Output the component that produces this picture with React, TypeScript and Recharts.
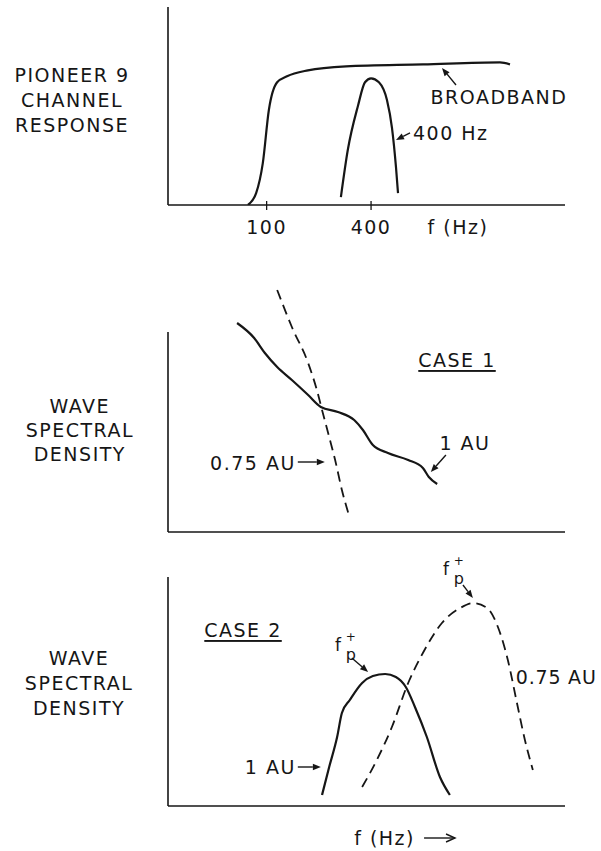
import React from "react";
import {
  LineChart,
  Line,
  XAxis,
  YAxis,
  ReferenceLine,
  ReferenceDot,
} from "recharts";

const FONT = "DejaVu Sans";
const INK = "#161616";

// Pioneer 9 channel response: frequency in Hz (log axis), response in relative units
const broadbandHz = [78, 87, 95, 103, 115, 131, 173, 287, 797, 2215, 2529];
const broadbandResp = [0, 6, 21, 48, 62, 65, 68, 70, 71, 72, 71];
const narrowHz = [268, 294, 336, 369, 400, 444, 494, 528, 557, 572];
const narrowResp = [4, 28, 50, 62, 64, 62, 53, 39, 19, 6];
const responseTicks = [100, 400];

// Case 1: relative frequency vs spectral density
const case1Freq1AU = [17.4, 21.7, 24.4, 27.5, 31.2, 35.3, 38.5, 42.8, 46.9, 49.1, 51.6, 55.4, 60.5, 64.2, 65.7, 67.8];
const case1Dens1AU = [104.5, 97, 89.5, 82.5, 76, 68.5, 62.5, 60, 56, 51, 43.5, 39.5, 36, 32, 27.5, 24];
const case1Freq075 = [27.5, 31.2, 35.3, 37.5, 39.0, 40.6, 42.1, 43.8, 45.8];
const case1Dens075 = [121, 102.5, 84.5, 71, 59.5, 47.5, 36, 21, 7];

// Case 2
const case2Freq1AU = [38.8, 40.6, 42.6, 43.8, 45.8, 48.9, 51.6, 54.7, 57.4, 59.9, 62.2, 65.2, 68.5, 71.0];
const case2Dens1AU = [5.5, 19.5, 34.5, 46.5, 53, 61.5, 65, 66, 64.5, 59.5, 49.5, 34.5, 14.5, 5.5];
const case2Freq075 = [48.9, 52.6, 56.4, 60.5, 64.2, 69.0, 73.6, 76.8, 80.4, 83.1, 85.6, 87.9, 89.9, 91.9];
const case2Dens075 = [9.5, 23, 39.5, 61.5, 76.5, 91.5, 99, 101.5, 99, 89.5, 73, 51.5, 33, 18];

const toRows = (xs: number[], ys: number[]) => xs.map((f, i) => ({ f, v: ys[i] }));

const textStyle = {
  fontFamily: FONT,
  fontSize: 19,
  letterSpacing: 1.5,
  fill: INK,
};

// line with a filled (or open) head at the second point
const arrow = (open = false) => (p: any) => {
  const { x1, y1, x2, y2 } = p;
  const a = Math.atan2(y2 - y1, x2 - x1);
  const len = open ? 9 : 8;
  const w = open ? 4 : 3.2;
  const bx = x2 - len * Math.cos(a);
  const by = y2 - len * Math.sin(a);
  const nx = -Math.sin(a) * w;
  const ny = Math.cos(a) * w;
  return (
    <g>
      <line x1={x1} y1={y1} x2={open ? x2 : bx} y2={open ? y2 : by} stroke={INK} strokeWidth={1.4} />
      {open ? (
        <polyline
          points={`${bx + nx},${by + ny} ${x2},${y2} ${bx - nx},${by - ny}`}
          fill="none"
          stroke={INK}
          strokeWidth={1.4}
        />
      ) : (
        <polygon points={`${x2},${y2} ${bx + nx},${by + ny} ${bx - nx},${by - ny}`} fill={INK} />
      )}
    </g>
  );
};

const note =
  (
    lines: string[],
    anchor: "start" | "middle" | "end" = "middle",
    gap = 25,
    underline = false,
    spacing = 1.5
  ) =>
  (p: any) => (
    <g>
      {lines.map((t, i) => (
        <text
          key={t}
          x={p.cx}
          y={p.cy + (i - (lines.length - 1) / 2) * gap}
          textAnchor={anchor}
          dominantBaseline="central"
          style={{
            ...textStyle,
            letterSpacing: spacing,
            textDecoration: underline ? "underline" : "none",
          }}
        >
          {t}
        </text>
      ))}
    </g>
  );

// f with a "+" superscript and a "p" subscript
const fpNote = (p: any) => (
  <g style={{ fontFamily: FONT, fill: INK }}>
    <text x={p.cx - 2} y={p.cy} textAnchor="middle" dominantBaseline="central" fontSize={17}>
      f
    </text>
    <text x={p.cx + 11} y={p.cy - 8} textAnchor="middle" dominantBaseline="central" fontSize={12}>
      +
    </text>
    <text x={p.cx + 11} y={p.cy + 9} textAnchor="middle" dominantBaseline="central" fontSize={16}>
      p
    </text>
  </g>
);

const ResponseTick = (p: any) => (
  <g>
    <line x1={p.x} x2={p.x} y1={p.y - 4} y2={p.y + 5} stroke={INK} strokeWidth={1.3} />
    <text x={p.x} y={p.y + 22} textAnchor="middle" dominantBaseline="central" style={textStyle}>
      {p.payload.value}
    </text>
  </g>
);

const noDot = { r: 0 };

function ResponsePanel() {
  return (
    <LineChart width={601} height={240} margin={{ top: 7, right: 36, bottom: 0, left: 168 }}>
      <XAxis
        dataKey="f"
        type="number"
        scale="log"
        domain={[27, 5250]}
        allowDataOverflow
        ticks={responseTicks}
        tickSize={0}
        tickMargin={0}
        tickLine={false}
        tick={ResponseTick}
        height={35}
        axisLine={{ stroke: INK, strokeWidth: 1.6 }}
      />
      <YAxis dataKey="v" type="number" domain={[0, 100]} allowDataOverflow hide />
      <ReferenceLine
        segment={[{ x: 27, y: 0 }, { x: 27, y: 100 }]}
        stroke={INK}
        strokeWidth={1.6}
      />
      <Line data={toRows(broadbandHz, broadbandResp)} dataKey="v" type="monotone" stroke={INK} strokeWidth={2.2} dot={false} isAnimationActive={false} />
      <Line data={toRows(narrowHz, narrowResp)} dataKey="v" type="monotone" stroke={INK} strokeWidth={2.2} dot={false} isAnimationActive={false} />
      <ReferenceLine segment={[{ x: 1235, y: 60.6 }, { x: 1026, y: 69.2 }]} shape={arrow()} />
      <ReferenceLine segment={[{ x: 671, y: 36.4 }, { x: 557, y: 32.8 }]} shape={arrow()} />
      <ReferenceDot x={2186} y={54.5} {...noDot} shape={note(["BROADBAND"])} />
      <ReferenceDot x={698} y={36.4} {...noDot} shape={note(["400 Hz"], "start")} />
      <ReferenceDot x={1269} y={-11.1} {...noDot} ifOverflow="visible" shape={note(["f (Hz)"])} />
      <ReferenceDot
        x={7.55}
        y={53}
        {...noDot}
        ifOverflow="visible"
        shape={note(["PIONEER 9", "CHANNEL", "RESPONSE"])}
      />
    </LineChart>
  );
}

function Case1Panel() {
  return (
    <LineChart width={601} height={270} margin={{ top: 12, right: 36, bottom: 0, left: 168 }}>
      <XAxis
        dataKey="f"
        type="number"
        domain={[0, 100]}
        allowDataOverflow
        tick={false}
        tickLine={false}
        height={8}
        axisLine={{ stroke: INK, strokeWidth: 1.6 }}
      />
      <YAxis dataKey="v" type="number" domain={[0, 125]} allowDataOverflow hide />
      <ReferenceLine segment={[{ x: 0, y: 0 }, { x: 0, y: 100 }]} stroke={INK} strokeWidth={1.6} />
      <Line data={toRows(case1Freq1AU, case1Dens1AU)} dataKey="v" type="monotone" stroke={INK} strokeWidth={2.2} dot={false} isAnimationActive={false} />
      <Line data={toRows(case1Freq075, case1Dens075)} dataKey="v" type="monotone" stroke={INK} strokeWidth={1.8} strokeDasharray="10 6" dot={false} isAnimationActive={false} />
      <ReferenceDot x={72.8} y={86} {...noDot} shape={note(["CASE 1"], "middle", 25, true)} />
      <ReferenceLine segment={[{ x: 32.7, y: 35 }, { x: 39.5, y: 35 }]} shape={arrow()} />
      <ReferenceDot x={32.2} y={34.5} {...noDot} shape={note(["0.75 AU"], "end")} />
      <ReferenceLine segment={[{ x: 70.0, y: 38.5 }, { x: 66.2, y: 30 }]} shape={arrow()} />
      <ReferenceDot x={74.8} y={44.5} {...noDot} shape={note(["1 AU"])} />
      <ReferenceDot
        x={-22.2}
        y={51}
        {...noDot}
        ifOverflow="visible"
        shape={note(["WAVE", "SPECTRAL", "DENSITY"], "middle", 24)}
      />
    </LineChart>
  );
}

function Case2Panel() {
  return (
    <LineChart width={601} height={296} margin={{ top: 11, right: 36, bottom: 0, left: 168 }}>
      <XAxis
        dataKey="f"
        type="number"
        domain={[0, 100]}
        allowDataOverflow
        tick={false}
        tickLine={false}
        height={45}
        axisLine={{ stroke: INK, strokeWidth: 1.6 }}
      />
      <YAxis dataKey="v" type="number" domain={[0, 120]} allowDataOverflow hide />
      <ReferenceLine segment={[{ x: 0, y: 0 }, { x: 0, y: 114.5 }]} stroke={INK} strokeWidth={1.6} />
      <Line data={toRows(case2Freq1AU, case2Dens1AU)} dataKey="v" type="monotone" stroke={INK} strokeWidth={2.2} dot={false} isAnimationActive={false} />
      <Line data={toRows(case2Freq075, case2Dens075)} dataKey="v" type="monotone" stroke={INK} strokeWidth={1.8} strokeDasharray="10 6" dot={false} isAnimationActive={false} />
      <ReferenceDot x={18.9} y={88} {...noDot} shape={note(["CASE 2"], "middle", 25, true)} />
      <ReferenceDot x={70.5} y={118.5} {...noDot} shape={fpNote} />
      <ReferenceLine segment={[{ x: 74.3, y: 110.5 }, { x: 76.8, y: 104 }]} shape={arrow()} />
      <ReferenceDot x={43.3} y={80.5} {...noDot} shape={fpNote} />
      <ReferenceLine segment={[{ x: 46.3, y: 74 }, { x: 50.4, y: 67 }]} shape={arrow()} />
      <ReferenceDot x={87.6} y={64.5} {...noDot} shape={note(["0.75 AU"], "start", 25, false, 0.8)} />
      <ReferenceLine segment={[{ x: 32.7, y: 19.5 }, { x: 38.5, y: 19.5 }]} shape={arrow()} />
      <ReferenceDot x={32.2} y={19.5} {...noDot} shape={note(["1 AU"], "end")} />
      <ReferenceDot x={46.9} y={-16} {...noDot} ifOverflow="visible" shape={note(["f (Hz)"], "start")} />
      <ReferenceLine segment={[{ x: 64.5, y: -16 }, { x: 72.3, y: -16 }]} ifOverflow="visible" shape={arrow(true)} />
      <ReferenceDot
        x={-22.4}
        y={61.5}
        {...noDot}
        ifOverflow="visible"
        shape={note(["WAVE", "SPECTRAL", "DENSITY"])}
      />
    </LineChart>
  );
}

export default function App() {
  return (
    <div style={{ position: "absolute", left: 0, top: 0, width: 601, height: 851, background: "#fff" }}>
      <div style={{ position: "absolute", left: 0, top: 0 }}>
        <ResponsePanel />
      </div>
      <div style={{ position: "absolute", left: 0, top: 270 }}>
        <Case1Panel />
      </div>
      <div style={{ position: "absolute", left: 0, top: 555 }}>
        <Case2Panel />
      </div>
    </div>
  );
}
